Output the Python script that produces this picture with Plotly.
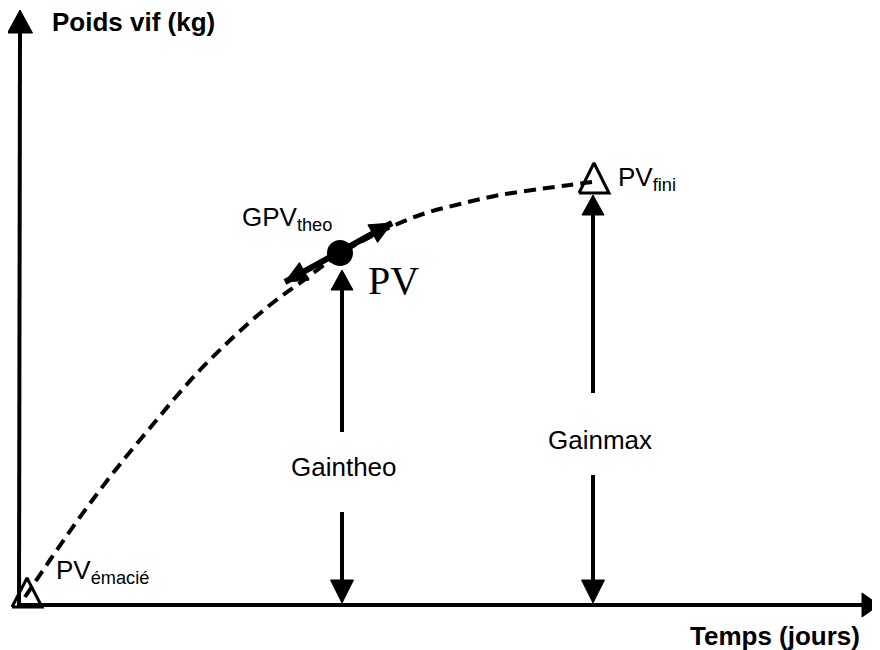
import plotly.graph_objects as go

W, H = 880, 650
PAGE_OFFSET = 8  # default body margin of the html page

# Growth curve (time, live weight) (diagram units)
curve_time = [25, 50, 75, 100, 125, 150, 175, 200, 225, 250, 275, 300, 340, 380, 420, 460, 500, 540, 570, 592]
curve_weight = [53, 90, 126, 160, 192, 222, 252, 280, 305, 328, 349, 367, 396, 418, 435, 446, 455, 461, 465, 468]

# Key points
point_names = ["PV émacié", "PV", "PV fini"]
point_time = [27, 340, 594]
point_weight = [57, 397, 472]

# Axes origin / ends
origin = (19, 45)
x_axis_end = 879
y_axis_end = 640

# Tangent (GPV theo) end points
gpv_time = [285, 392]
gpv_weight = [368, 427]

# Gain arrows
gain_labels = ["Gaintheo", "Gainmax"]
gain_time = [342, 593]
gain_low_top = [138, 175]
gain_up_bottom = [218, 257]
gain_up_tip = [380, 455]
gain_label_time = [344, 600]
gain_label_weight = [183, 210]

fig = go.Figure()

BLACK = "#000000"


def add_line(xs, ys, width=4, dash=None):
    fig.add_trace(go.Scatter(x=xs, y=ys, mode="lines",
                             line=dict(color=BLACK, width=width, dash=dash),
                             hoverinfo="skip", showlegend=False))


def add_head(tip, direction, length, width):
    dx, dy = direction
    n = (dx * dx + dy * dy) ** 0.5
    dx, dy = dx / n, dy / n
    px, py = -dy, dx
    bx, by = tip[0] - dx * length, tip[1] - dy * length
    xs = [tip[0], bx + px * width / 2, bx - px * width / 2, tip[0]]
    ys = [tip[1], by + py * width / 2, by - py * width / 2, tip[1]]
    fig.add_trace(go.Scatter(x=xs, y=ys, mode="lines", fill="toself",
                             fillcolor=BLACK, line=dict(color=BLACK, width=1),
                             hoverinfo="skip", showlegend=False))


def add_open_triangle(cx, base_y, w, h):
    xs = [cx - w / 2, cx + w / 2, cx, cx - w / 2]
    ys = [base_y, base_y, base_y + h, base_y]
    fig.add_trace(go.Scatter(x=xs, y=ys, mode="lines",
                             line=dict(color=BLACK, width=3),
                             hoverinfo="skip", showlegend=False))


# dashed growth curve
fig.add_trace(go.Scatter(x=curve_time, y=curve_weight, mode="lines",
                         line=dict(color=BLACK, width=4, dash="12px,7px", shape="spline"),
                         hoverinfo="skip", showlegend=False))

# axes
add_line([origin[0], 20], [origin[1], y_axis_end - 22])
add_head((20, y_axis_end), (0, 1), 23, 25)
add_line([origin[0] - 2, x_axis_end - 15], [origin[1], origin[1]])
add_head((x_axis_end, origin[1]), (1, 0), 17, 24)

# gain arrows
for i in range(len(gain_time)):
    gx = gain_time[i]
    add_line([gx, gx], [gain_low_top[i], origin[1] + 24])
    add_head((gx, origin[1] + 2), (0, -1), 23, 23)
    add_line([gx, gx], [gain_up_bottom[i], gain_up_tip[i] - 18])
    add_head((gx, gain_up_tip[i]), (0, 1), 20, 22)

# tangent double arrow
add_line(gpv_time, gpv_weight, width=6)
dvec = (gpv_time[1] - gpv_time[0], gpv_weight[1] - gpv_weight[0])
add_head((gpv_time[1], gpv_weight[1]), dvec, 22, 20)
add_head((gpv_time[0], gpv_weight[0]), (-dvec[0], -dvec[1]), 22, 20)

# PV dot
fig.add_trace(go.Scatter(x=[point_time[1]], y=[point_weight[1]], mode="markers",
                         marker=dict(color=BLACK, size=26, line=dict(width=0)),
                         hoverinfo="skip", showlegend=False))

# open triangles
add_open_triangle(point_time[0], 43, 30, 29)
add_open_triangle(point_time[2], 457, 30, 30)

SANS = "Liberation Sans, Arial, sans-serif"
SERIF = "Liberation Serif, Times New Roman, serif"
FS = 26

ann = []
ann.append(dict(x=50, y=628, text="<b>Poids vif (kg)</b>", xanchor="left", yanchor="middle",
                font=dict(family=SANS, size=FS, color=BLACK)))
ann.append(dict(x=862, y=14, text="<b>Temps (jours)</b>", xanchor="right", yanchor="middle",
                font=dict(family=SANS, size=FS, color=BLACK)))
ann.append(dict(x=366, y=370, text="PV", xanchor="left", yanchor="middle",
                font=dict(family=SERIF, size=40, color=BLACK)))
ann.append(dict(x=240, y=432, text="GPV<sub>theo</sub>", xanchor="left", yanchor="middle",
                font=dict(family=SANS, size=FS, color=BLACK)))
ann.append(dict(x=616, y=472, text="PV<sub>fini</sub>", xanchor="left", yanchor="middle",
                font=dict(family=SANS, size=FS, color=BLACK)))
ann.append(dict(x=54, y=79, text="PV<sub>émacié</sub>", xanchor="left", yanchor="middle",
                font=dict(family=SANS, size=FS, color=BLACK)))
for i in range(len(gain_labels)):
    ann.append(dict(x=gain_label_time[i], y=gain_label_weight[i],
                    text=gain_labels[i], xanchor="center", yanchor="middle",
                    font=dict(family=SANS, size=FS, color=BLACK)))
for a in ann:
    a.update(xref="x", yref="y", showarrow=False)

fig.update_layout(
    width=W, height=H, autosize=False,
    margin=dict(l=0, r=0, t=0, b=0, pad=0),
    paper_bgcolor="white", plot_bgcolor="white",
    xaxis=dict(range=[PAGE_OFFSET, W + PAGE_OFFSET], visible=False, fixedrange=True),
    yaxis=dict(range=[-PAGE_OFFSET, H - PAGE_OFFSET], visible=False, fixedrange=True),
    annotations=ann,
    showlegend=False,
)

fig.write_html("out.html", config={"displayModeBar": False})
